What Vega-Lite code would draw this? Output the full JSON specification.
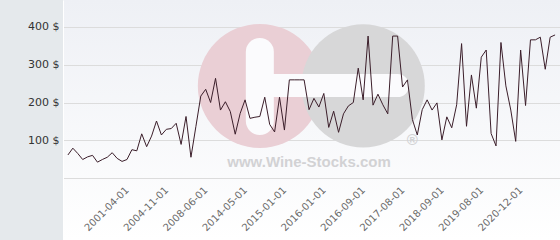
{
  "$schema": "https://vega.github.io/schema/vega-lite/v6.json",
  "autosize": "none",
  "width": 497,
  "height": 240,
  "padding": {"left": 63, "top": 0, "right": 0, "bottom": 0},
  "background": "#e5e9ec",
  "view": {"stroke": null, "fill": {"gradient": "linear", "x1": 0, "y1": 0, "x2": 0, "y2": 1, "stops": [{"offset": 0, "color": "#eef0f5"}, {"offset": 1, "color": "#ffffff"}]}},
  "config": {"font": "DejaVu Sans"},
  "datasets": {
    "prices": [
      {"date": "1996-04-01", "price": 61}, {"date": "1996-09-01", "price": 79}, {"date": "1997-02-01", "price": 65}, {"date": "1997-07-01", "price": 49},
      {"date": "1997-12-01", "price": 56}, {"date": "1998-05-01", "price": 60}, {"date": "1998-10-01", "price": 42}, {"date": "1999-03-01", "price": 49},
      {"date": "1999-08-01", "price": 55}, {"date": "2000-01-01", "price": 67}, {"date": "2000-06-01", "price": 52}, {"date": "2000-11-01", "price": 44},
      {"date": "2001-04-01", "price": 49}, {"date": "2001-09-01", "price": 75}, {"date": "2002-02-01", "price": 72}, {"date": "2002-08-01", "price": 117},
      {"date": "2003-01-01", "price": 83}, {"date": "2003-06-01", "price": 111}, {"date": "2003-12-01", "price": 151}, {"date": "2004-05-01", "price": 114},
      {"date": "2004-11-01", "price": 129}, {"date": "2005-04-01", "price": 131}, {"date": "2005-09-01", "price": 145}, {"date": "2006-03-01", "price": 89},
      {"date": "2006-08-01", "price": 163}, {"date": "2007-01-01", "price": 55}, {"date": "2007-07-01", "price": 136}, {"date": "2007-12-01", "price": 217},
      {"date": "2008-06-01", "price": 235}, {"date": "2009-03-01", "price": 200}, {"date": "2009-12-01", "price": 264}, {"date": "2010-09-01", "price": 180},
      {"date": "2011-06-01", "price": 202}, {"date": "2012-03-01", "price": 176}, {"date": "2012-12-01", "price": 116}, {"date": "2013-09-01", "price": 171},
      {"date": "2014-05-01", "price": 207}, {"date": "2014-06-01", "price": 158}, {"date": "2014-07-01", "price": 161}, {"date": "2014-08-01", "price": 163},
      {"date": "2014-09-01", "price": 214}, {"date": "2014-10-01", "price": 142}, {"date": "2014-11-01", "price": 122}, {"date": "2014-12-01", "price": 214},
      {"date": "2015-01-01", "price": 127}, {"date": "2015-02-01", "price": 260}, {"date": "2015-04-01", "price": 260}, {"date": "2015-05-01", "price": 260},
      {"date": "2015-07-01", "price": 260}, {"date": "2015-08-01", "price": 181}, {"date": "2015-10-01", "price": 211}, {"date": "2015-11-01", "price": 188},
      {"date": "2016-01-01", "price": 224}, {"date": "2016-02-01", "price": 134}, {"date": "2016-03-01", "price": 177}, {"date": "2016-04-01", "price": 121},
      {"date": "2016-05-01", "price": 170}, {"date": "2016-06-01", "price": 191}, {"date": "2016-07-01", "price": 200}, {"date": "2016-08-01", "price": 291},
      {"date": "2016-09-01", "price": 207}, {"date": "2016-10-01", "price": 376}, {"date": "2016-11-01", "price": 193}, {"date": "2016-12-01", "price": 222},
      {"date": "2017-02-01", "price": 194}, {"date": "2017-03-01", "price": 170}, {"date": "2017-05-01", "price": 376}, {"date": "2017-06-01", "price": 376},
      {"date": "2017-08-01", "price": 241}, {"date": "2017-09-01", "price": 260}, {"date": "2017-11-01", "price": 155}, {"date": "2017-12-01", "price": 114},
      {"date": "2018-02-01", "price": 181}, {"date": "2018-03-01", "price": 207}, {"date": "2018-05-01", "price": 180}, {"date": "2018-07-01", "price": 199},
      {"date": "2018-09-01", "price": 101}, {"date": "2018-10-01", "price": 162}, {"date": "2018-11-01", "price": 133}, {"date": "2018-12-01", "price": 194},
      {"date": "2019-02-01", "price": 356}, {"date": "2019-03-01", "price": 137}, {"date": "2019-05-01", "price": 273}, {"date": "2019-06-01", "price": 185},
      {"date": "2019-08-01", "price": 320}, {"date": "2019-10-01", "price": 339}, {"date": "2019-12-01", "price": 118}, {"date": "2020-02-01", "price": 85},
      {"date": "2020-04-01", "price": 359}, {"date": "2020-06-01", "price": 244}, {"date": "2020-08-01", "price": 180}, {"date": "2020-10-01", "price": 97},
      {"date": "2020-12-01", "price": 339}, {"date": "2021-02-01", "price": 192}, {"date": "2021-04-01", "price": 366}, {"date": "2021-06-01", "price": 366},
      {"date": "2021-08-01", "price": 373}, {"date": "2021-10-01", "price": 288}, {"date": "2021-12-01", "price": 373}, {"date": "2022-02-01", "price": 379}
    ]
  },
  "layer": [
    {
      "data": {"values": [{"date": "2014-08-01", "price": 244}]},
      "mark": {"type": "point", "shape": "circle", "filled": true, "opacity": 1, "size": 15376, "color": "#eacfd5"},
      "encoding": {"x": {"field": "date", "type": "ordinal"}, "y": {"field": "price", "type": "quantitative"}}
    },
    {
      "data": {"values": [{"date": "2016-09-01", "price": 244}]},
      "mark": {"type": "point", "shape": "circle", "filled": true, "opacity": 1, "size": 15200, "color": "#d7d7d8"},
      "encoding": {"x": {"field": "date", "type": "ordinal"}, "y": {"field": "price", "type": "quantitative"}}
    },
    {
      "data": {"values": [{"date": "2014-08-01", "top": 334, "bottom": 151}]},
      "mark": {"type": "rule", "color": "#fbfbfd", "strokeWidth": 28, "strokeCap": "round"},
      "encoding": {"x": {"field": "date", "type": "ordinal"}, "y": {"field": "top", "type": "quantitative"}, "y2": {"field": "bottom"}}
    },
    {
      "data": {"values": [{"from": "2014-08-01", "to": "2017-06-01", "price": 245}]},
      "mark": {"type": "rule", "color": "#fbfbfd", "strokeWidth": 23, "strokeCap": "round"},
      "encoding": {"x": {"field": "from", "type": "ordinal"}, "x2": {"field": "to"}, "y": {"field": "price", "type": "quantitative"}}
    },
    {
      "data": {"values": [{"date": "2015-08-01", "price": 42, "label": "www.Wine-Stocks.com"}, {"date": "2017-11-01", "price": 100, "label": "®"}]},
      "mark": {"type": "text", "font": "Liberation Sans", "fontWeight": "bold", "fontSize": 15, "color": "#d2d2d4", "align": "center", "baseline": "middle"},
      "encoding": {"x": {"field": "date", "type": "ordinal"}, "y": {"field": "price", "type": "quantitative"}, "text": {"field": "label"}}
    },
    {
      "data": {"name": "prices"},
      "mark": {"type": "line", "color": "#3b1e2a", "strokeWidth": 1},
      "encoding": {
        "x": {
          "field": "date", "type": "ordinal",
          "scale": {"type": "point", "padding": 1.12},
          "axis": {
            "title": null, "orient": "bottom", "offset": -62,
            "values": ["2001-04-01", "2004-11-01", "2008-06-01", "2014-05-01", "2015-01-01", "2016-01-01", "2016-09-01", "2017-08-01", "2018-09-01", "2019-08-01", "2020-12-01"],
            "labelAngle": -45, "labelAlign": "right", "labelBaseline": "middle", "labelPadding": 10,
            "labelFont": "DejaVu Sans", "labelFontSize": 10, "labelColor": "#6b6b6b",
            "ticks": false, "tickSize": 0, "domain": false, "grid": false, "labelOverlap": false
          }
        },
        "y": {
          "field": "price", "type": "quantitative",
          "scale": {"domain": [-164.2, 471.5], "nice": false, "zero": false},
          "axis": {
            "title": null, "values": [0, 100, 200, 300, 400],
            "labelExpr": "datum.value == 0 ? '' : datum.value + ' $'",
            "labelFont": "DejaVu Sans", "labelFontSize": 11, "labelColor": "#333333", "labelPadding": 4,
            "ticks": false, "tickSize": 0, "domain": true, "domainColor": "#ffffff", "domainWidth": 1,
            "grid": true, "gridColor": "#dcdcdc", "gridWidth": 1
          }
        }
      }
    }
  ]
}
